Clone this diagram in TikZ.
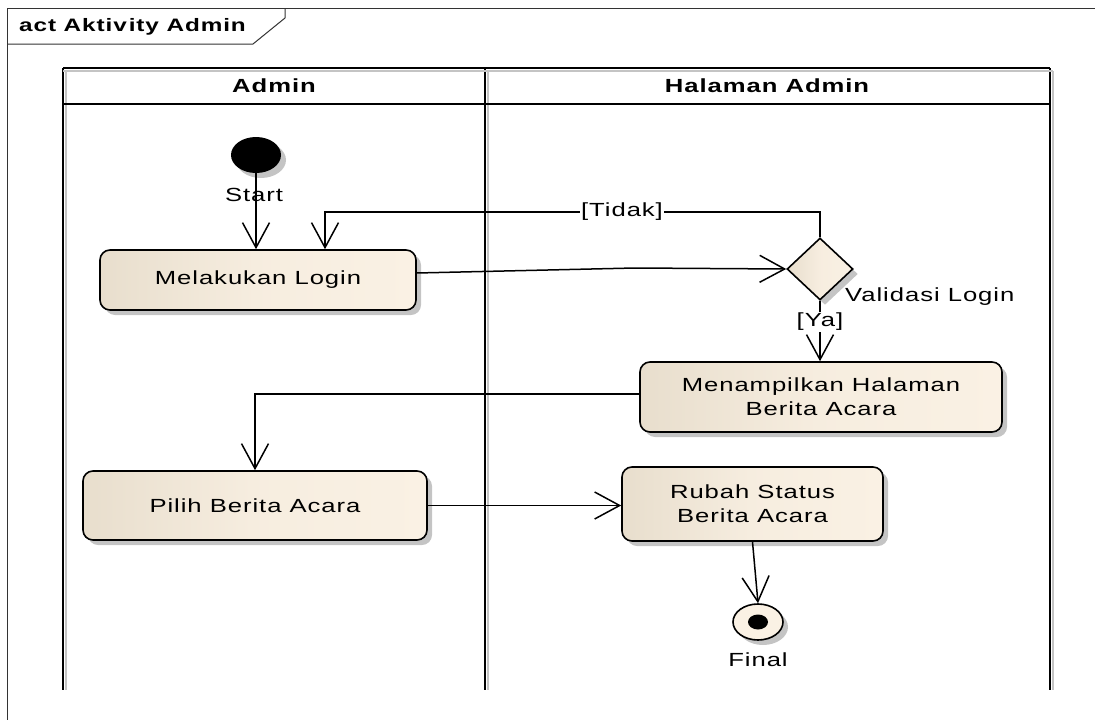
\documentclass[tikz,border=0pt]{standalone}
\usepackage{fontspec}
\setmainfont{Liberation Sans}[FakeStretch=1.35, LetterSpace=5]
\usetikzlibrary{arrows.meta, shapes.geometric, shadows}

\definecolor{actleft}{HTML}{E8DECD}
\definecolor{actright}{HTML}{FAF1E4}
\definecolor{shadowgray}{HTML}{C4C4C4}
\newcommand\diagfont{\fontsize{19}{24}\selectfont}

\tikzset{
  dshadow/.style={drop shadow={shadow xshift=5pt, shadow yshift=-5pt, fill=shadowgray, opacity=1}},
  beige/.style={left color=actleft, right color=actright, middle color=actright!80!actleft},
  action/.style={draw, line width=1.6pt, rounded corners=10pt, beige,
    dshadow, align=center, font=\diagfont, inner sep=0pt},
  decision/.style={draw, line width=1.6pt, shape=diamond, beige,
    dshadow, inner sep=0pt, minimum width=66pt, minimum height=62pt},
  flow/.style={draw, line width=1.5pt, -{Straight Barb[length=25pt,width=27pt]}},
  guard/.style={font=\diagfont, fill=white, inner sep=1pt},
  plain/.style={font=\diagfont, inner sep=0pt},
  lane/.style={line width=2.5pt},
  laneshadow/.style={line width=2.5pt, shadowgray},
}

\begin{document}
\begin{tikzpicture}[x=1pt, y=-1pt]
\useasboundingbox (0,0) rectangle (1095,720);

% diagram frame with its name tab
\draw[line width=1pt, black!80] (7,720) -- (7,8) -- (1095,8);
\draw[line width=1pt, black!80] (7,44) -- (253,44) -- (285,18) -- (285,8);
\node[anchor=west, font=\fontsize{18}{22}\selectfont\bfseries, inner sep=0pt] (title) at (19,27) {act Aktiv\kern2pt ity Admin};

% swimlanes
\foreach \x in {63,485,1050}{
  \draw[laneshadow] (\x+3,71) -- (\x+3,690);
  \draw[lane] (\x,68) -- (\x,690);
}
\draw[laneshadow] (63,71) -- (1053,71);
\draw[lane] (63,68) -- (1050,68);
\draw[line width=1.8pt] (63,104) -- (1050,104);
\node[font=\diagfont\bfseries, inner sep=0pt] (laneA) at (274,86) {Admin};
\node[font=\diagfont\bfseries, inner sep=0pt] (laneB) at (767,86) {Halaman Admin};

% nodes
\node[ellipse, fill=black, minimum width=50pt, minimum height=36pt, inner sep=0pt, dshadow] (start) at (256,155) {};
\node[plain] (startlbl) at (254,195) {Start};

\node[action, minimum width=316pt, minimum height=60pt] (login) at (258,280) {Melakukan Login};
\node[decision] (dec) at (820,269) {};
\node[plain, anchor=west] (declbl) at (845,297) {Validasi Login};

\node[action, minimum width=362pt, minimum height=70pt] (menu) at (821,397) {Menampilkan Halaman\\Berita Acara};
\node[action, minimum width=344pt, minimum height=69pt] (pilih) at (255,505.5) {Pilih Berita Acara};
\node[action, minimum width=261pt, minimum height=74pt] (rubah) at (752.5,504) {Rubah Status\\Berita Acara};

\node[ellipse, draw, line width=1.6pt, fill=actright, minimum width=50pt, minimum height=36pt, inner sep=0pt, dshadow] (final) at (758,622) {};
\node[ellipse, fill=black, minimum width=20pt, minimum height=15pt, inner sep=0pt] (finaldot) at (final.center) {};
\node[plain] (finallbl) at (758,660) {Final};

% control flows
\draw[flow] (start.south) -- (start.south |- login.north);
\draw[flow] ([yshift=7pt]login.east) -- (635,268) -- (dec.west);
\draw[flow] (dec.north) -- (dec.north |- 0,212)
  -| node[guard, pos=0.2] {[Tidak]} ([xshift=67pt]login.north);
\draw[flow] (dec.south) -- node[guard, pos=0.35] {[Ya]} (dec.south |- menu.north);
\draw[flow] ([yshift=3pt]menu.west) -| (pilih.north);
\draw[flow] (pilih.east) -- (pilih.east -| rubah.west);
\draw[flow] (rubah.south) -- (final.north);
\end{tikzpicture}
\end{document}
